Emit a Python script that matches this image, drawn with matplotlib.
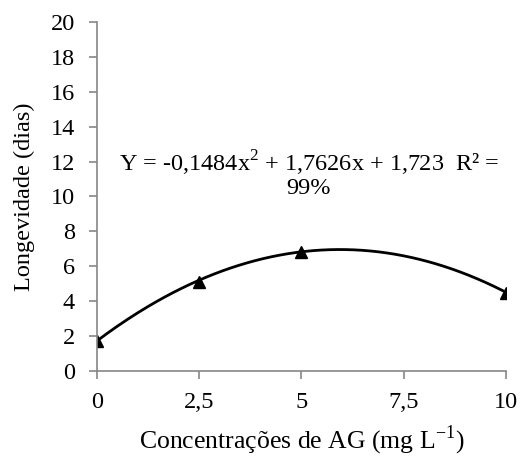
import numpy as np
import matplotlib
matplotlib.use("Agg")
import matplotlib.pyplot as plt

plt.rcParams['font.family'] = ['Liberation Serif', 'DejaVu Serif']
plt.rcParams['mathtext.fontset'] = 'custom'
plt.rcParams['mathtext.rm'] = 'Liberation Serif'

# Data
conc = [0, 2.5, 5, 10]
longevidade = [1.72, 5.12, 6.84, 4.49]
coef = [-0.1484, 1.7626, 1.723]  # quadratic fit from the equation label
xticks = [0, 2.5, 5, 7.5, 10]
xticklabels = ["0", "2,5", "5", "7,5", "10"]
yticks = list(range(0, 21, 2))

fig = plt.figure(figsize=(5.22, 4.59), dpi=100)
ax = fig.add_axes([0.186, 0.192, 0.783, 0.760])

xs = np.linspace(0, 10, 200)
ax.plot(xs, np.polyval(coef, xs), color='black', lw=2)
ax.plot(conc, longevidade, linestyle='none', marker='^', color='black', markersize=8)

ax.set_xlim(0, 10)
ax.set_ylim(0, 20)
ax.set_xticks(xticks)
ax.set_xticklabels(xticklabels)
ax.set_yticks(yticks)

gray = '#868686'
for s in ['top', 'right']:
    ax.spines[s].set_visible(False)
for s in ['left', 'bottom']:
    ax.spines[s].set_color(gray)
    ax.spines[s].set_linewidth(1.2)
ax.tick_params(axis='both', colors=gray, labelcolor='black', labelsize=17.5,
               length=6, width=1.2, direction='out')
ax.tick_params(axis='x', pad=9)
ax.tick_params(axis='y', pad=10)
ax.set_xlabel("Concentrações de AG (mg L$^{\\mathregular{-1}}$)", fontsize=18.5, labelpad=8)
ax.set_ylabel("Longevidade (dias)", fontsize=17.5, labelpad=11)

ax.text(5.18, 11.3, "Y = -0,1484x$^{\\mathregular{2}}$ + 1,7626x + 1,723  R² =\n99%",
        ha='center', va='center', fontsize=17.5, linespacing=1.0)

fig.savefig("out.png", dpi=100)
